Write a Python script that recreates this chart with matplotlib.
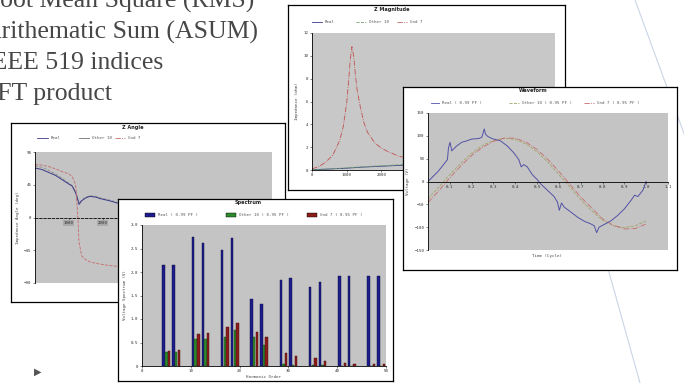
import matplotlib
matplotlib.use("Agg")
import matplotlib.pyplot as plt
from matplotlib.patches import Rectangle

W, H = 684, 383

# bullet text (left side is cut off on the slide)
bullets = ["Root Mean Square (RMS)", "Arithematic Sum (ASUM)", "IEEE 519 indices", "FFT product"]

# Z angle (deg) vs frequency (Hz)
za_f = [0, 200, 400, 600, 800, 1000, 1100, 1200, 1260, 1300, 1380, 1500, 1620, 1800,
        1920, 2200, 2420, 3000, 4000, 5000, 6000, 7000]
za_real = [68, 66, 62, 58, 52, 46, 43, 34, 25, 18, 23, 27, 29, 28, 26, 23, 20, 16, 12, 9, 7, 5]
za_other = [71, 69, 65, 60, 54, 47, 44, 36, 27, 20, 24, 28, 30, 29, 27, 24, 21, 17, 13, 10, 8, 6]
za_gnd = [73, 72, 70, 67, 63, 60, 56, 45, 5, -34, -53, -58, -61, -63, -64, -66, -67, -68, -69, -70, -71, -72]

# Z magnitude (ohm) vs frequency (Hz)
zm_f = [0, 200, 400, 600, 800, 900, 1000, 1050, 1100, 1150, 1200, 1250, 1300, 1400, 1500,
        1600, 1800, 2000, 2200, 2500, 3000, 4000, 5000, 6000, 7000]
zm_gnd = [0.1, 0.3, 0.7, 1.3, 2.6, 3.8, 5.9, 7.6, 9.6, 10.8, 10.0, 8.3, 7.0, 5.4, 4.1,
          3.3, 2.4, 1.9, 1.6, 1.2, 0.9, 0.6, 0.5, 0.4, 0.35]
zm_real = [0.02, 0.05, 0.07, 0.1, 0.13, 0.14, 0.16, 0.17, 0.18, 0.19, 0.2, 0.21, 0.22, 0.24, 0.26,
           0.27, 0.3, 0.33, 0.36, 0.4, 0.47, 0.62, 0.77, 0.92, 1.05]
zm_other = [0.03, 0.06, 0.09, 0.12, 0.15, 0.17, 0.19, 0.2, 0.21, 0.22, 0.23, 0.24, 0.25, 0.27, 0.29,
            0.31, 0.34, 0.37, 0.4, 0.45, 0.52, 0.68, 0.84, 1.0, 1.15]

# spectrum (V) per harmonic order
harm = [5, 7, 11, 13, 17, 19, 23, 25, 29, 31, 35, 37, 41, 43, 47, 49]
sp_real = [2.15, 2.15, 2.74, 2.62, 2.47, 2.72, 1.43, 1.32, 1.83, 1.87, 1.68, 1.79, 1.91, 1.91, 1.92, 1.92]
sp_other = [0.30, 0.30, 0.57, 0.57, 0.62, 0.77, 0.62, 0.45, 0.05, 0.03, 0.02, 0.02, 0.01, 0.01, 0.01, 0.01]
sp_gnd = [0.32, 0.33, 0.68, 0.70, 0.83, 0.92, 0.73, 0.62, 0.28, 0.21, 0.17, 0.10, 0.06, 0.05, 0.04, 0.04]

# waveform (V) vs time (cycle)
wf_t_real = [0, 0.023, 0.046, 0.063, 0.078, 0.089, 0.094, 0.101, 0.109, 0.117, 0.132, 0.155, 0.178,
             0.201, 0.232, 0.247, 0.258, 0.263, 0.273, 0.293, 0.332, 0.363, 0.393, 0.416, 0.427,
             0.439, 0.455, 0.478, 0.501, 0.516, 0.547, 0.578, 0.593, 0.602, 0.612, 0.624, 0.655,
             0.685, 0.716, 0.747, 0.762, 0.773, 0.784, 0.808, 0.839, 0.870, 0.900, 0.931, 0.947,
             0.962, 0.985, 1.0]
wf_real = [0, 11, 22, 32, 41, 48, 74, 86, 67, 71, 78, 86, 89, 93, 94, 97, 115, 104, 99, 94, 89, 78,
           63, 48, 32, 37, 32, 15, 4, -5, -19, -33, -45, -63, -47, -56, -67, -78, -87, -93, -97,
           -112, -100, -94, -86, -74, -60, -41, -30, -33, -19, 0]
wf_t = [0, 0.05, 0.1, 0.15, 0.2, 0.25, 0.3, 0.35, 0.4, 0.45, 0.5, 0.55, 0.6, 0.65, 0.7, 0.75,
        0.8, 0.85, 0.9, 0.95, 1.0]
wf_other = [-38, -12, 15, 40, 62, 79, 90, 95, 92, 82, 65, 42, 15, -12, -40, -64, -85, -97, -101, -97, -86]
wf_gnd = [-46, -20, 8, 34, 57, 75, 88, 95, 95, 86, 70, 48, 22, -6, -34, -58, -82, -96, -104, -103, -93]

C_REAL = "#3a3a88"
C_OTHER = "#a4a466"
C_GND = "#c46a6a"
GRAY = "#c4c4c4"
MONO = "DejaVu Sans Mono"

fig = plt.figure(figsize=(W / 100, H / 100), dpi=100)
fig.patch.set_facecolor("white")


def rect(b):
    x0, y0, x1, y1 = b
    return [x0 / W, 1 - y1 / H, (x1 - x0) / W, (y1 - y0) / H]


def make_frame(box, z):
    # frame axes uses pixel coordinates so labels can be placed directly
    fr = fig.add_axes(rect(box), zorder=z)
    fr.set_xlim(box[0], box[2])
    fr.set_ylim(box[3], box[1])
    fr.set_xticks([])
    fr.set_yticks([])
    fr.set_facecolor("white")
    for s in fr.spines.values():
        s.set_linewidth(0.9)
        s.set_color("black")
    return fr


def make_plot(box, z, fc=GRAY):
    ax = fig.add_axes(rect(box), zorder=z)
    ax.set_facecolor(fc)
    ax.spines["top"].set_visible(False)
    ax.spines["right"].set_visible(False)
    ax.spines["left"].set_linewidth(0.6)
    ax.spines["bottom"].set_linewidth(0.6)
    ax.tick_params(labelsize=3, length=1.5, width=0.4, pad=1, colors="#303030")
    for lbl in ax.get_xticklabels() + ax.get_yticklabels():
        lbl.set_family(MONO)
    return ax


def fix_fonts(ax):
    for lbl in ax.get_xticklabels() + ax.get_yticklabels():
        lbl.set_family(MONO)
        lbl.set_fontsize(3)


def leg_line(fr, xa, xb, y, label, **kw):
    fr.plot([xa, xb], [y, y], **kw)
    fr.text(xb + 3, y, label, fontsize=3, va="center", ha="left", family=MONO, color="#555555")


def leg_patch(fr, xa, xb, y, label, color):
    fr.add_patch(Rectangle((xa, y - 2), xb - xa, 4, facecolor=color, edgecolor="black", lw=0.3))
    fr.text(xb + 3, y, label, fontsize=3, va="center", ha="left", family=MONO, color="#555555")


def title(fr, x, y, s):
    fr.text(x, y, s, fontsize=3.6, weight="bold", ha="center", va="center", color="#222222")


# ---- top-left bullet text
for i, s in enumerate(bullets):
    fig.text(-17 / W, 1 - (8 + 30.7 * i) / H, s, fontsize=18.5, family="Liberation Serif",
             color="#474747", va="baseline", ha="left")
fig.text(34 / W, 1 - 372 / H, "\u25b6", fontsize=7, color="#555555", va="center", ha="left")

# decorative thin lines on the right
deco = fig.add_axes([0, 0, 1, 1], zorder=0.5)
deco.set_xlim(0, W)
deco.set_ylim(H, 0)
deco.axis("off")
deco.plot([635, 690], [0, 150], color="#c9d5e5", lw=0.8)
deco.plot([600, 640], [240, 383], color="#c9d5e5", lw=0.8)

# ---- Z Angle panel
za_box = (11, 123, 285, 302)
fr = make_frame(za_box, 1)
title(fr, 133, 127.5, "Z Angle")
leg_line(fr, 37, 48, 138, "Real", color=C_REAL, lw=0.6)
leg_line(fr, 79, 89, 138, "Other 10", color="#707070", lw=0.6)
leg_line(fr, 115, 125, 138, "Gnd 7", color=C_GND, lw=0.6, ls="-.")
ax = make_plot((35, 152, 272, 283), 1.1)
ax.plot(za_f, za_other, color="#8a8a8a", lw=0.6, ls="--")
ax.plot(za_f, za_real, color=C_REAL, lw=0.7)
ax.plot(za_f, za_gnd, color=C_GND, lw=0.6, ls="--")
ax.set_xlim(0, 7000)
ax.set_ylim(-90, 90)
ax.set_yticks([-90, -45, 0, 45, 90])
ax.set_xticks(range(1000, 8000, 1000))
ax.spines["bottom"].set_position(("data", 0))
ax.spines["bottom"].set_linestyle((0, (3, 2)))
fix_fonts(ax)
for lbl in ax.get_xticklabels():
    lbl.set_bbox(dict(facecolor="#a9a9a9", edgecolor="none", pad=0.4))
ax.set_ylabel("Impedance Angle (deg)", fontsize=3, family=MONO, labelpad=3, color="#444444")

# ---- Z Magnitude panel
zm_box = (288, 5, 565, 190)
fr = make_frame(zm_box, 1)
title(fr, 392, 9, "Z Magnitude")
leg_line(fr, 312, 322, 22, "Real", color=C_REAL, lw=0.6)
leg_line(fr, 356, 366, 22, "Other 10", color="#70a070", lw=0.6, ls="--")
leg_line(fr, 397, 407, 22, "Gnd 7", color=C_GND, lw=0.6, ls="-.")
ax = make_plot((312, 33, 555, 170), 1.1, fc="#c8c8c8")
ax.plot(zm_f, zm_real, color=C_REAL, lw=0.6)
ax.plot(zm_f, zm_other, color="#70a070", lw=0.6, ls="--")
ax.plot(zm_f, zm_gnd, color="#c05050", lw=0.6, ls="-.")
ax.set_xlim(0, 7000)
ax.set_ylim(0, 12)
ax.set_yticks(range(0, 13, 2))
ax.set_xticks(range(0, 8000, 1000))
fix_fonts(ax)
ax.set_ylabel("Impedance (ohm)", fontsize=3, family=MONO, labelpad=3, color="#444444")

# ---- Spectrum panel
sp_box = (118, 199, 393, 381)
fr = make_frame(sp_box, 2)
title(fr, 248, 202.5, "Spectrum")
leg_patch(fr, 145, 155, 215, "Real ( 0.99 PF )", "#1c1c8a")
leg_patch(fr, 226, 236, 215, "Other 10 ( 0.95 PF )", "#2f8a2f")
leg_patch(fr, 307, 317, 215, "Gnd 7 ( 0.95 PF )", "#8c1c1c")
ax = make_plot((142, 225, 386, 366), 2.1)
bw = 0.5
ax.bar([h - 0.55 for h in harm], sp_real, width=bw, color="#1c1c8a", edgecolor="#0a0a40", lw=0.3)
ax.bar(harm, sp_other, width=bw, color="#2f8a2f", edgecolor="#104010", lw=0.3)
ax.bar([h + 0.55 for h in harm], sp_gnd, width=bw, color="#8c1c1c", edgecolor="#400a0a", lw=0.3)
ax.set_xlim(0, 50)
ax.set_ylim(0, 3.0)
ax.set_yticks([0, 0.5, 1.0, 1.5, 2.0, 2.5, 3.0])
ax.set_yticklabels(["0", "0.5", "1.0", "1.5", "2.0", "2.5", "3.0"])
ax.set_xticks(range(0, 51, 10))
fix_fonts(ax)
ax.set_ylabel("Voltage Spectrum (V)", fontsize=3, family=MONO, labelpad=3, color="#444444")
ax.set_xlabel("Harmonic Order", fontsize=3, family=MONO, labelpad=1, color="#444444")

# ---- Waveform panel
wf_box = (403, 87, 677, 270)
fr = make_frame(wf_box, 2)
title(fr, 533, 91, "Waveform")
leg_line(fr, 431, 439, 103, "Real ( 0.99 PF )", color="#5252a6", lw=0.6)
leg_line(fr, 509, 519, 103, "Other 10 ( 0.95 PF )", color=C_OTHER, lw=0.6, ls="--")
leg_line(fr, 584, 594, 103, "Gnd 7 ( 0.95 PF )", color=C_GND, lw=0.6, ls="-.")
ax = make_plot((428, 113, 668, 250), 2.1)
ax.plot(wf_t, wf_other, color=C_OTHER, lw=0.6, ls="--")
ax.plot(wf_t, wf_gnd, color=C_GND, lw=0.6, ls="-.")
ax.plot(wf_t_real, wf_real, color="#5252a6", lw=0.7)
ax.set_xlim(0, 1.1)
ax.set_ylim(-150, 150)
ax.set_yticks(range(-150, 151, 50))
ax.set_xticks([0.1 * i for i in range(1, 12)])
ax.set_xticklabels([f"{0.1 * i:.1f}" for i in range(1, 12)])
ax.spines["bottom"].set_position(("data", 0))
fix_fonts(ax)
ax.set_ylabel("Voltage (V)", fontsize=3, family=MONO, labelpad=3, color="#444444")
fr.text(547, 256, "Time (Cycle)", fontsize=3, family=MONO, ha="center", va="center", color="#444444")

fig.savefig("out.png", dpi=100, facecolor="white")
